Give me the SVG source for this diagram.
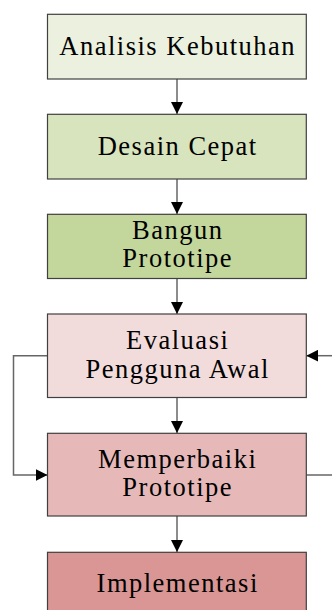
<svg xmlns="http://www.w3.org/2000/svg" width="332" height="610" viewBox="0 0 332 610">
<style>
.box{stroke:#404040;stroke-width:1.2}
.t{font-family:"Liberation Serif","Times New Roman",serif;font-size:26.5px;letter-spacing:1.5px;fill:#000;text-anchor:middle}
.ln{fill:none;stroke:#666;stroke-width:1.5}
</style>
<defs>
<marker id="ah" markerWidth="12" markerHeight="12" viewBox="0 0 12 12" refX="12" refY="6" orient="auto" markerUnits="userSpaceOnUse">
<path d="M0,0 L12,6 L0,12 Z" fill="#000"/>
</marker>
</defs>
<g id="connectors">
<path class="ln" d="M177,79 V114" marker-end="url(#ah)"/>
<path class="ln" d="M177,179 V214" marker-end="url(#ah)"/>
<path class="ln" d="M177,278.5 V314" marker-end="url(#ah)"/>
<path class="ln" d="M177,397.5 V433" marker-end="url(#ah)"/>
<path class="ln" d="M177,516 V552" marker-end="url(#ah)"/>
<path class="ln" d="M47.5,355.7 H13.5 V475 H47.5" marker-end="url(#ah)"/>
<path class="ln" d="M306.3,475 H334"/>
<path class="ln" d="M334,355.7 H306.3" marker-end="url(#ah)"/>
</g>
<g id="n1">
<rect class="box" x="47.5" y="14.3" width="258.8" height="64.7" fill="#EBF1DE"/>
<text class="t" x="177.7" y="55">Analisis Kebutuhan</text>
</g>
<g id="n2">
<rect class="box" x="47.5" y="114.3" width="258.8" height="64.7" fill="#D7E4BD"/>
<text class="t" x="177.7" y="154.5">Desain Cepat</text>
</g>
<g id="n3">
<rect class="box" x="47.5" y="214.3" width="258.8" height="64.2" fill="#C3D69B"/>
<text class="t" x="177.7" y="238.5">Bangun</text>
<text class="t" x="177.7" y="267">Prototipe</text>
</g>
<g id="n4">
<rect class="box" x="47.5" y="314" width="258.8" height="83.5" fill="#F2DCDB"/>
<text class="t" x="177.7" y="349.3">Evaluasi</text>
<text class="t" x="177.7" y="377.5">Pengguna Awal</text>
</g>
<g id="n5">
<rect class="box" x="47.5" y="433.3" width="258.8" height="82.7" fill="#E6B9B8"/>
<text class="t" x="177.7" y="467.5">Memperbaiki</text>
<text class="t" x="177.7" y="496">Prototipe</text>
</g>
<g id="n6">
<rect class="box" x="47.5" y="552.3" width="258.8" height="70" fill="#D99694"/>
<text class="t" x="177.7" y="591.7">Implementasi</text>
</g>
</svg>
